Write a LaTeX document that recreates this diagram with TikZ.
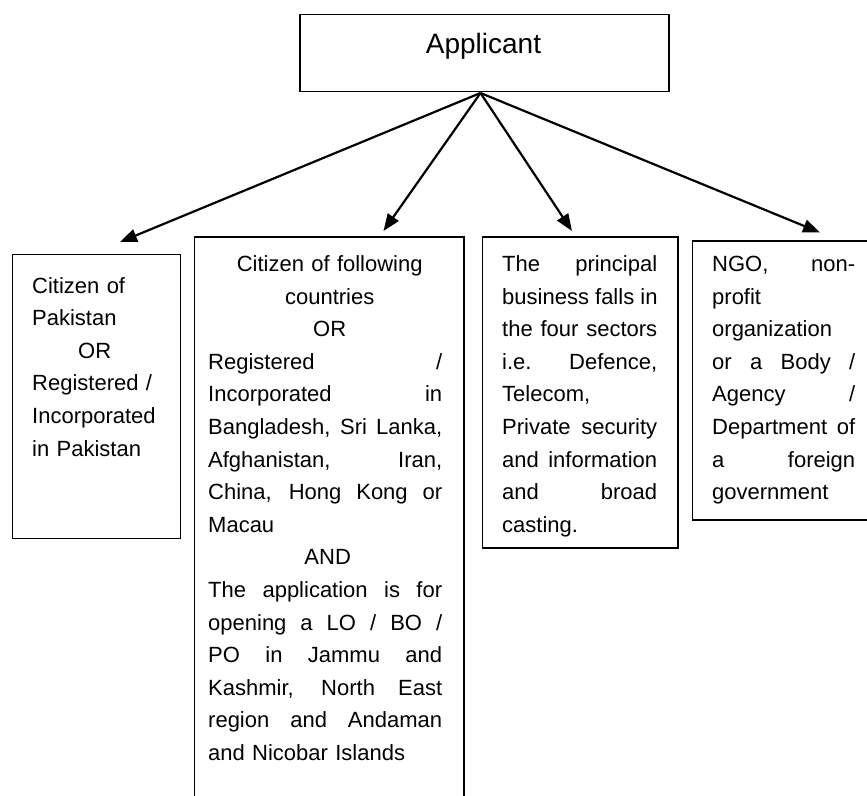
\documentclass[tikz,border=0pt]{standalone}
\usepackage{fontspec}
\setmainfont{Liberation Sans}
\usetikzlibrary{arrows.meta}
% one justified line (word gaps stretched evenly), one centred line
\newcommand\jl[1]{\leavevmode\hbox to\linewidth{\spaceskip=0.278em plus 1fil\relax
  \xspaceskip=\spaceskip #1}}
\newcommand\cl[1]{\leavevmode\hbox to\linewidth{\hss #1\hss}}
\begin{document}
\begin{tikzpicture}[x=1pt,y=-1pt,
  box/.style={draw,line width=1.5pt,rectangle,inner sep=0pt,anchor=north west},
  txt/.style={inner sep=0pt,anchor=base west,align=left,
    font=\fontsize{22}{32.6}\selectfont},
  link/.style={line width=2.2pt,-{Triangle[length=17pt,width=13pt]}}]
\clip (0,0) rectangle (867,795);
\fill[white] (0,0) rectangle (867,795);

% top box
\node[box,line width=1.8pt,minimum width=369pt,minimum height=77pt] (app) at (299,13.5) {};
\node[inner sep=0pt,anchor=base,font=\fontsize{28}{32}\selectfont] (applbl) at (483.5,53) {Applicant};

% the four categories
\node[box,minimum width=168pt,minimum height=284pt] (b1) at (11.7,253.5) {};
\node[box,minimum width=269.5pt,minimum height=600pt] (b2) at (193.5,236) {};
\node[box,minimum width=195.5pt,minimum height=311pt] (b3) at (481.5,236) {};
\node[box,minimum width=200pt,minimum height=279pt] (b4) at (691.5,240) {};

\node[txt,text width=150pt] (t1) at (32,293) {Citizen of\\Pakistan\\\hspace*{46pt}OR\\Registered /\\Incorporated\\in Pakistan};

\node[txt,text width=234pt] (t2) at (208,271.5) {%
\cl{\hspace*{9pt}Citizen of following}\\
\cl{\hspace*{9pt}countries}\\
\cl{\hspace*{9pt}OR}\\
\jl{Registered /}\\
\jl{Incorporated in}\\
\jl{Bangladesh, Sri Lanka,}\\
\jl{Afghanistan, Iran,}\\
\jl{China, Hong Kong or}\\
Macau\\
\cl{\hspace*{5pt}AND}\\
\jl{The application is for}\\
\jl{opening a LO / BO /}\\
\jl{PO in Jammu and}\\
\jl{Kashmir, North East}\\
\jl{region and Andaman}\\
and Nicobar Islands};

\node[txt,text width=155pt] (t3) at (502,271.5) {%
\jl{The principal}\\
\jl{business falls in}\\
\jl{the four sectors}\\
\jl{i.e. Defence,}\\
Telecom,\\
\jl{Private security}\\
\jl{and information}\\
\jl{and broad}\\
casting.};

\node[txt,text width=143pt] (t4) at (712,271.5) {%
\jl{NGO, non-}\\
profit\\
organization\\
\jl{or a Body /}\\
\jl{Agency /}\\
\jl{Department of}\\
\jl{a foreign}\\
government};

% connectors
\coordinate (src) at (480.5,93);
\coordinate (e1) at (120,242);
\coordinate (e2) at (383.5,231);
\coordinate (e3) at (572,231);
\coordinate (e4) at (820,232.5);
\foreach \e in {e1,e2,e3,e4} \draw[link] (src) -- (\e);
\end{tikzpicture}
\end{document}
